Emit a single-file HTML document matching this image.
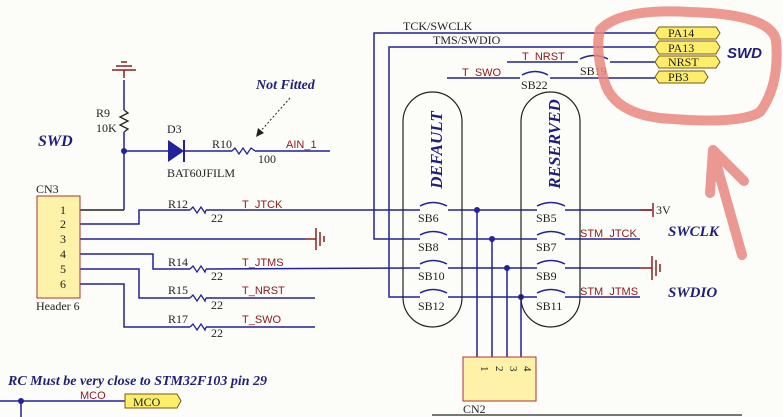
<!DOCTYPE html>
<html><head><style>body{margin:0;background:#fcfcf9}svg{display:block}</style></head><body>
<svg width="783" height="417" viewBox="0 0 783 417" xmlns="http://www.w3.org/2000/svg" font-family="Liberation Serif, serif">
<rect width="783" height="417" fill="#fcfcf9"/>
<g stroke="#22229a" stroke-width="1.5" fill="none">
<line x1="124" y1="80" x2="124" y2="110"/>
<polyline points="124,110 128,113 120,117 128,121 120,125 128,129 124,132" stroke="#222" stroke-width="1.3"/>
<line x1="124" y1="132" x2="124" y2="210"/>
<line x1="124" y1="151" x2="168" y2="151"/>
<line x1="184" y1="151" x2="232" y2="151"/>
<polyline points="232,151 235,148 239,154 243,148 247,154 251,148 255,151" stroke-width="1.3"/>
<line x1="255" y1="151" x2="330" y2="151"/>
<line x1="80" y1="210" x2="124" y2="210" stroke="#222"/>
<polyline points="80,224 139,224 139,210 190,210"/>
<polyline points="80,239 305,239"/>
<polyline points="80,254 153,254 153,269 190,269"/>
<polyline points="80,269 139,269 139,298 190,298"/>
<polyline points="80,284 124,284 124,327 190,327"/>
<line x1="206" y1="210" x2="420" y2="210"/>
<line x1="206" y1="269" x2="420" y2="268"/>
<line x1="206" y1="298" x2="315" y2="298"/>
<line x1="206" y1="327" x2="315" y2="327"/>
<polyline points="655,33 374,33 374,239 420,239"/>
<polyline points="655,47 389,47 389,297 420,297"/>
<line x1="507" y1="62" x2="578" y2="62"/>
<line x1="610" y1="62" x2="655" y2="62"/>
<line x1="447" y1="78" x2="520" y2="78"/>
<line x1="550" y1="78" x2="655" y2="78"/>
<path d="M580 59 Q594 52 608 59"/>
<path d="M522 75 Q535 68 548 75"/>
<line x1="448" y1="210" x2="537" y2="210"/><line x1="565" y1="210" x2="652" y2="210"/>
<line x1="448" y1="239" x2="537" y2="239"/><line x1="565" y1="239" x2="640" y2="239"/>
<line x1="448" y1="268" x2="537" y2="268"/><line x1="565" y1="268" x2="640" y2="268"/>
<line x1="448" y1="297" x2="537" y2="297"/><line x1="565" y1="297" x2="640" y2="297"/>
<path d="M420 206 Q433 199 447 206"/><path d="M420 235 Q433 228 447 235"/><path d="M420 264 Q433 257 447 264"/><path d="M420 293 Q433 286 447 293"/>
<path d="M537 206 Q551 199 565 206"/><path d="M537 235 Q551 228 565 235"/><path d="M537 264 Q551 257 565 264"/><path d="M537 293 Q551 286 565 293"/>
<line x1="477" y1="210" x2="477" y2="357"/><line x1="492" y1="239" x2="492" y2="357"/>
<line x1="507" y1="268" x2="507" y2="357"/><line x1="521" y1="297" x2="521" y2="357"/>
<line x1="0" y1="401" x2="125" y2="401"/><line x1="21" y1="401" x2="21" y2="417"/>
</g>
<g fill="#22229a"><circle cx="124" cy="151" r="3"/><circle cx="477" cy="210" r="3"/><circle cx="492" cy="239" r="3"/><circle cx="507" cy="268" r="3"/><circle cx="521" cy="297" r="3"/><circle cx="21" cy="401" r="3"/>
<polygon points="168,140 168,162 184,151"/></g>
<line x1="184" y1="140" x2="184" y2="162" stroke="#22229a" stroke-width="2"/>
<g stroke="#22229a" stroke-width="1.3" fill="none">
<polyline points="190,210 193,207 197,213 201,207 205,213 206,210"/>
<polyline points="190,269 193,266 197,272 201,266 205,272 206,269"/>
<polyline points="190,298 193,295 197,301 201,295 205,301 206,298"/>
<polyline points="190,327 193,324 197,330 201,324 205,330 206,327"/>
</g>
<g stroke="#8b2020" stroke-width="1.5">
<line x1="124" y1="78" x2="124" y2="70"/><line x1="112" y1="70" x2="136" y2="70"/><line x1="116" y1="66" x2="132" y2="66"/><line x1="121" y1="62" x2="127" y2="62"/>
<line x1="305" y1="239" x2="316" y2="239"/><line x1="316" y1="228" x2="316" y2="250"/><line x1="320" y1="232" x2="320" y2="246"/><line x1="324" y1="236" x2="324" y2="242"/>
<line x1="640" y1="268" x2="652" y2="268"/><line x1="652" y1="256" x2="652" y2="280"/><line x1="656" y1="260" x2="656" y2="276"/><line x1="660" y1="264" x2="660" y2="272"/>
<line x1="640" y1="210" x2="652" y2="210"/><line x1="653" y1="203" x2="653" y2="217"/>
</g>
<line x1="290" y1="98" x2="258" y2="134" stroke="#222" stroke-dasharray="2,2"/>
<polygon points="256,137 258,128 264,133" fill="#222"/>
<rect x="37" y="196" width="43" height="102" fill="#fdf2a8" stroke="#a33"/>
<g font-size="12" fill="#222">
<text x="60" y="214">1</text><text x="60" y="228">2</text><text x="60" y="243">3</text><text x="60" y="258">4</text><text x="60" y="273">5</text><text x="60" y="288">6</text>
<text x="36" y="193">CN3</text><text x="36" y="310">Header 6</text>
<text x="96" y="117">R9</text><text x="96" y="132">10K</text><text x="167" y="133">D3</text><text x="167" y="177">BAT60JFILM</text>
<text x="212" y="148">R10</text><text x="258" y="163">100</text>
<text x="168" y="208">R12</text><text x="211" y="222">22</text>
<text x="168" y="266">R14</text><text x="211" y="280">22</text>
<text x="168" y="294">R15</text><text x="211" y="309">22</text>
<text x="168" y="323">R17</text><text x="211" y="337">22</text>
<text x="403" y="30">TCK/SWCLK</text><text x="433" y="44">TMS/SWDIO</text>
<text x="580" y="75">SB19</text><text x="521" y="89">SB22</text>
<text x="418" y="222">SB6</text><text x="536" y="222">SB5</text>
<text x="418" y="251">SB8</text><text x="536" y="251">SB7</text>
<text x="418" y="280">SB10</text><text x="536" y="280">SB9</text>
<text x="418" y="310">SB12</text><text x="536" y="310">SB11</text>
<text x="656" y="214">3V</text><text x="463" y="413">CN2</text>
</g>
<g font-family="Liberation Sans, sans-serif" font-size="11" fill="#8b1a1a">
<text x="286" y="148">AIN_1</text><text x="242" y="208">T_JTCK</text><text x="242" y="266">T_JTMS</text><text x="242" y="294">T_NRST</text><text x="242" y="323">T_SWO</text>
<text x="522" y="60">T_NRST</text><text x="462" y="76">T_SWO</text><text x="580" y="237">STM_JTCK</text><text x="580" y="295">STM_JTMS</text><text x="80" y="399">MCO</text>
</g>
<rect x="403" y="92" width="59" height="235" rx="29.5" fill="none" stroke="#222" stroke-width="1.2"/>
<rect x="521" y="92" width="59" height="235" rx="29.5" fill="none" stroke="#222" stroke-width="1.2"/>
<g font-size="17" font-weight="bold" font-style="italic" fill="#1f1f7a">
<text transform="translate(442,150) rotate(-90)" text-anchor="middle">DEFAULT</text>
<text transform="translate(560,144) rotate(-90)" text-anchor="middle">RESERVED</text>
<text x="38" y="146" font-size="16">SWD</text>
<text x="668" y="236" font-size="15">SWCLK</text><text x="668" y="297" font-size="15">SWDIO</text>
<text x="8" y="385" font-size="14">RC Must be very close to STM32F103 pin 29</text>
<text x="256" y="89" font-size="14">Not Fitted</text>
</g>
<text x="727" y="58" font-family="Liberation Sans, sans-serif" font-size="15" font-weight="bold" font-style="italic" fill="#1f1f7a">SWD</text>
<g fill="#fcee6a" stroke="#7a5a10" stroke-width="1">
<polygon points="655,33 659,27 716,27 720,33 716,39 659,39"/>
<polygon points="655,47 659,41 716,41 720,47 716,54 659,54"/>
<polygon points="655,62 659,56 716,56 720,62 716,68 659,68"/>
<polygon points="655,77 659,71 704,71 708,77 704,83 659,83"/>
<polygon points="125,394 177,394 181,401 177,408 125,408"/>
</g>
<g font-size="12" fill="#222"><text x="668" y="37">PA14</text><text x="668" y="52">PA13</text><text x="668" y="66">NRST</text><text x="668" y="81">PB3</text><text x="133" y="406">MCO</text></g>
<rect x="463" y="357" width="73" height="44" fill="#fdf2a8" stroke="#a33"/>
<g font-size="11" fill="#222">
<text transform="translate(481,366) rotate(90)">1</text><text transform="translate(496,366) rotate(90)">2</text><text transform="translate(510,366) rotate(90)">3</text><text transform="translate(524,366) rotate(90)">4</text>
</g>
<line x1="432" y1="415" x2="742" y2="415" stroke="#777" stroke-width="2"/>
<g stroke="#e8877f" stroke-width="10" fill="none" stroke-linecap="round" opacity="0.85">
<path d="M600 30 Q620 8 690 12 Q770 14 776 40 Q780 85 760 112 Q740 125 660 118 Q612 112 604 80 Q595 50 600 30 Z"/>
<path d="M713 152 L742 255"/><path d="M713 150 L744 181"/><path d="M713 150 L710 193"/>
</g>
</svg>
</body></html>
